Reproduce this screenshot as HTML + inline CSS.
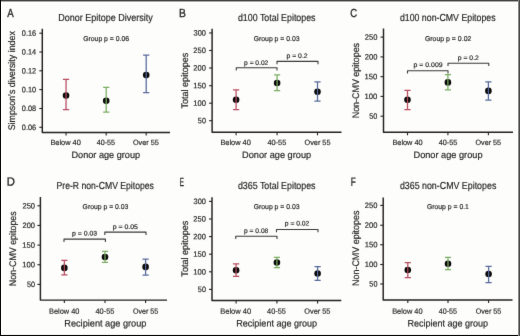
<!DOCTYPE html>
<html><head><meta charset="utf-8"><style>
html,body{margin:0;padding:0;background:#fdfdfc;}
svg{display:block;font-family:"Liberation Sans",sans-serif;text-rendering:geometricPrecision;}
text{stroke:#231f20;stroke-width:0.18px;}
</style></head><body>
<svg width="520" height="336" viewBox="0 0 520 336">
<rect x="0" y="0" width="520" height="336" fill="#fdfdfc"/>
<defs><filter id="soft" x="0" y="0" width="520" height="336" filterUnits="userSpaceOnUse" color-interpolation-filters="sRGB"><feConvolveMatrix order="3" kernelMatrix="1 12 1 12 144 12 1 12 1" divisor="196" edgeMode="none"/></filter></defs>
<g filter="url(#soft)">
<g stroke-linejoin="round">
<path d="M42.30,28.80 V132.45 H170.00" fill="none" stroke="#231f20" stroke-width="1.45"/>
<line x1="39.30" y1="33.20" x2="42.30" y2="33.20" stroke="#231f20" stroke-width="1.1"/>
<line x1="39.30" y1="52.00" x2="42.30" y2="52.00" stroke="#231f20" stroke-width="1.1"/>
<line x1="39.30" y1="70.80" x2="42.30" y2="70.80" stroke="#231f20" stroke-width="1.1"/>
<line x1="39.30" y1="89.60" x2="42.30" y2="89.60" stroke="#231f20" stroke-width="1.1"/>
<line x1="39.30" y1="108.50" x2="42.30" y2="108.50" stroke="#231f20" stroke-width="1.1"/>
<line x1="39.30" y1="127.30" x2="42.30" y2="127.30" stroke="#231f20" stroke-width="1.1"/>
<line x1="66.05" y1="132.45" x2="66.05" y2="135.45" stroke="#231f20" stroke-width="1.1"/>
<line x1="106.20" y1="132.45" x2="106.20" y2="135.45" stroke="#231f20" stroke-width="1.1"/>
<line x1="146.20" y1="132.45" x2="146.20" y2="135.45" stroke="#231f20" stroke-width="1.1"/>
<circle cx="66.05" cy="95.50" r="3.3" fill="#0a0a0a"/>
<path d="M66.05,79.40 V109.50 M62.95,79.40 H69.15 M62.95,109.50 H69.15" fill="none" stroke="#b64c5e" stroke-width="1.25"/>
<circle cx="106.20" cy="100.80" r="3.3" fill="#0a0a0a"/>
<path d="M106.20,87.40 V112.10 M103.10,87.40 H109.30 M103.10,112.10 H109.30" fill="none" stroke="#79ad60" stroke-width="1.25"/>
<circle cx="146.20" cy="75.10" r="3.3" fill="#0a0a0a"/>
<path d="M146.20,55.20 V92.70 M143.10,55.20 H149.30 M143.10,92.70 H149.30" fill="none" stroke="#56699a" stroke-width="1.25"/>
<path d="M212.10,28.80 V132.30 H341.50" fill="none" stroke="#231f20" stroke-width="1.45"/>
<line x1="209.10" y1="32.95" x2="212.10" y2="32.95" stroke="#231f20" stroke-width="1.1"/>
<line x1="209.10" y1="50.50" x2="212.10" y2="50.50" stroke="#231f20" stroke-width="1.1"/>
<line x1="209.10" y1="68.00" x2="212.10" y2="68.00" stroke="#231f20" stroke-width="1.1"/>
<line x1="209.10" y1="85.70" x2="212.10" y2="85.70" stroke="#231f20" stroke-width="1.1"/>
<line x1="209.10" y1="103.20" x2="212.10" y2="103.20" stroke="#231f20" stroke-width="1.1"/>
<line x1="209.10" y1="120.70" x2="212.10" y2="120.70" stroke="#231f20" stroke-width="1.1"/>
<line x1="236.10" y1="132.30" x2="236.10" y2="135.30" stroke="#231f20" stroke-width="1.1"/>
<line x1="277.10" y1="132.30" x2="277.10" y2="135.30" stroke="#231f20" stroke-width="1.1"/>
<line x1="317.50" y1="132.30" x2="317.50" y2="135.30" stroke="#231f20" stroke-width="1.1"/>
<path d="M236.25,70.55 V67.75 H277.00 V70.55" fill="none" stroke="#3a3a3a" stroke-width="1.1"/>
<path d="M277.00,64.20 V61.40 H318.00 V64.20" fill="none" stroke="#3a3a3a" stroke-width="1.1"/>
<circle cx="236.10" cy="99.70" r="3.3" fill="#0a0a0a"/>
<path d="M236.10,89.80 V109.60 M233.00,89.80 H239.20 M233.00,109.60 H239.20" fill="none" stroke="#b64c5e" stroke-width="1.25"/>
<circle cx="277.10" cy="83.00" r="3.3" fill="#0a0a0a"/>
<path d="M277.10,74.80 V90.60 M274.00,74.80 H280.20 M274.00,90.60 H280.20" fill="none" stroke="#79ad60" stroke-width="1.25"/>
<circle cx="317.50" cy="91.80" r="3.3" fill="#0a0a0a"/>
<path d="M317.50,81.90 V101.10 M314.40,81.90 H320.60 M314.40,101.10 H320.60" fill="none" stroke="#56699a" stroke-width="1.25"/>
<path d="M383.50,28.60 V132.30 H513.00" fill="none" stroke="#231f20" stroke-width="1.45"/>
<line x1="380.50" y1="37.10" x2="383.50" y2="37.10" stroke="#231f20" stroke-width="1.1"/>
<line x1="380.50" y1="56.90" x2="383.50" y2="56.90" stroke="#231f20" stroke-width="1.1"/>
<line x1="380.50" y1="76.65" x2="383.50" y2="76.65" stroke="#231f20" stroke-width="1.1"/>
<line x1="380.50" y1="96.40" x2="383.50" y2="96.40" stroke="#231f20" stroke-width="1.1"/>
<line x1="380.50" y1="116.20" x2="383.50" y2="116.20" stroke="#231f20" stroke-width="1.1"/>
<line x1="407.50" y1="132.30" x2="407.50" y2="135.30" stroke="#231f20" stroke-width="1.1"/>
<line x1="447.90" y1="132.30" x2="447.90" y2="135.30" stroke="#231f20" stroke-width="1.1"/>
<line x1="488.40" y1="132.30" x2="488.40" y2="135.30" stroke="#231f20" stroke-width="1.1"/>
<path d="M407.50,73.55 V70.75 H448.00 V73.55" fill="none" stroke="#3a3a3a" stroke-width="1.1"/>
<path d="M448.00,66.05 V63.25 H488.75 V66.05" fill="none" stroke="#3a3a3a" stroke-width="1.1"/>
<circle cx="407.50" cy="99.70" r="3.3" fill="#0a0a0a"/>
<path d="M407.50,90.40 V109.60 M404.40,90.40 H410.60 M404.40,109.60 H410.60" fill="none" stroke="#b64c5e" stroke-width="1.25"/>
<circle cx="447.90" cy="82.40" r="3.3" fill="#0a0a0a"/>
<path d="M447.90,74.50 V89.80 M444.80,74.50 H451.00 M444.80,89.80 H451.00" fill="none" stroke="#79ad60" stroke-width="1.25"/>
<circle cx="488.40" cy="90.90" r="3.3" fill="#0a0a0a"/>
<path d="M488.40,81.90 V100.00 M485.30,81.90 H491.50 M485.30,100.00 H491.50" fill="none" stroke="#56699a" stroke-width="1.25"/>
<path d="M40.40,197.10 V300.10 H167.00" fill="none" stroke="#231f20" stroke-width="1.45"/>
<line x1="37.40" y1="205.80" x2="40.40" y2="205.80" stroke="#231f20" stroke-width="1.1"/>
<line x1="37.40" y1="225.45" x2="40.40" y2="225.45" stroke="#231f20" stroke-width="1.1"/>
<line x1="37.40" y1="245.10" x2="40.40" y2="245.10" stroke="#231f20" stroke-width="1.1"/>
<line x1="37.40" y1="264.75" x2="40.40" y2="264.75" stroke="#231f20" stroke-width="1.1"/>
<line x1="37.40" y1="284.40" x2="40.40" y2="284.40" stroke="#231f20" stroke-width="1.1"/>
<line x1="64.35" y1="300.10" x2="64.35" y2="303.10" stroke="#231f20" stroke-width="1.1"/>
<line x1="105.00" y1="300.10" x2="105.00" y2="303.10" stroke="#231f20" stroke-width="1.1"/>
<line x1="145.60" y1="300.10" x2="145.60" y2="303.10" stroke="#231f20" stroke-width="1.1"/>
<path d="M64.00,241.90 V239.10 H105.40 V241.90" fill="none" stroke="#3a3a3a" stroke-width="1.1"/>
<path d="M104.80,234.90 V232.10 H146.00 V234.90" fill="none" stroke="#3a3a3a" stroke-width="1.1"/>
<circle cx="64.35" cy="267.90" r="3.3" fill="#0a0a0a"/>
<path d="M64.35,260.40 V274.80 M61.25,260.40 H67.45 M61.25,274.80 H67.45" fill="none" stroke="#b64c5e" stroke-width="1.25"/>
<circle cx="105.00" cy="257.00" r="3.3" fill="#0a0a0a"/>
<path d="M105.00,251.40 V262.30 M101.90,251.40 H108.10 M101.90,262.30 H108.10" fill="none" stroke="#79ad60" stroke-width="1.25"/>
<circle cx="145.60" cy="266.90" r="3.3" fill="#0a0a0a"/>
<path d="M145.60,259.00 V275.20 M142.50,259.00 H148.70 M142.50,275.20 H148.70" fill="none" stroke="#56699a" stroke-width="1.25"/>
<path d="M212.00,197.30 V300.40 H341.25" fill="none" stroke="#231f20" stroke-width="1.45"/>
<line x1="209.00" y1="201.40" x2="212.00" y2="201.40" stroke="#231f20" stroke-width="1.1"/>
<line x1="209.00" y1="219.00" x2="212.00" y2="219.00" stroke="#231f20" stroke-width="1.1"/>
<line x1="209.00" y1="236.60" x2="212.00" y2="236.60" stroke="#231f20" stroke-width="1.1"/>
<line x1="209.00" y1="254.20" x2="212.00" y2="254.20" stroke="#231f20" stroke-width="1.1"/>
<line x1="209.00" y1="271.80" x2="212.00" y2="271.80" stroke="#231f20" stroke-width="1.1"/>
<line x1="209.00" y1="289.40" x2="212.00" y2="289.40" stroke="#231f20" stroke-width="1.1"/>
<line x1="236.10" y1="300.40" x2="236.10" y2="303.40" stroke="#231f20" stroke-width="1.1"/>
<line x1="276.90" y1="300.40" x2="276.90" y2="303.40" stroke="#231f20" stroke-width="1.1"/>
<line x1="317.60" y1="300.40" x2="317.60" y2="303.40" stroke="#231f20" stroke-width="1.1"/>
<path d="M235.75,239.05 V236.25 H277.00 V239.05" fill="none" stroke="#3a3a3a" stroke-width="1.1"/>
<path d="M276.50,232.30 V229.50 H318.00 V232.30" fill="none" stroke="#3a3a3a" stroke-width="1.1"/>
<circle cx="236.10" cy="270.25" r="3.3" fill="#0a0a0a"/>
<path d="M236.10,263.75 V276.25 M233.00,263.75 H239.20 M233.00,276.25 H239.20" fill="none" stroke="#b64c5e" stroke-width="1.25"/>
<circle cx="276.90" cy="262.50" r="3.3" fill="#0a0a0a"/>
<path d="M276.90,257.25 V267.50 M273.80,257.25 H280.00 M273.80,267.50 H280.00" fill="none" stroke="#79ad60" stroke-width="1.25"/>
<circle cx="317.60" cy="273.50" r="3.3" fill="#0a0a0a"/>
<path d="M317.60,266.50 V280.25 M314.50,266.50 H320.70 M314.50,280.25 H320.70" fill="none" stroke="#56699a" stroke-width="1.25"/>
<path d="M383.20,197.50 V300.00 H512.50" fill="none" stroke="#231f20" stroke-width="1.45"/>
<line x1="380.20" y1="205.40" x2="383.20" y2="205.40" stroke="#231f20" stroke-width="1.1"/>
<line x1="380.20" y1="225.25" x2="383.20" y2="225.25" stroke="#231f20" stroke-width="1.1"/>
<line x1="380.20" y1="244.75" x2="383.20" y2="244.75" stroke="#231f20" stroke-width="1.1"/>
<line x1="380.20" y1="264.50" x2="383.20" y2="264.50" stroke="#231f20" stroke-width="1.1"/>
<line x1="380.20" y1="284.00" x2="383.20" y2="284.00" stroke="#231f20" stroke-width="1.1"/>
<line x1="407.80" y1="300.00" x2="407.80" y2="303.00" stroke="#231f20" stroke-width="1.1"/>
<line x1="448.00" y1="300.00" x2="448.00" y2="303.00" stroke="#231f20" stroke-width="1.1"/>
<line x1="488.60" y1="300.00" x2="488.60" y2="303.00" stroke="#231f20" stroke-width="1.1"/>
<circle cx="407.80" cy="270.00" r="3.3" fill="#0a0a0a"/>
<path d="M407.80,262.50 V277.50 M404.70,262.50 H410.90 M404.70,277.50 H410.90" fill="none" stroke="#b64c5e" stroke-width="1.25"/>
<circle cx="448.00" cy="263.75" r="3.3" fill="#0a0a0a"/>
<path d="M448.00,257.25 V269.50 M444.90,257.25 H451.10 M444.90,269.50 H451.10" fill="none" stroke="#79ad60" stroke-width="1.25"/>
<circle cx="488.60" cy="274.00" r="3.3" fill="#0a0a0a"/>
<path d="M488.60,266.25 V282.50 M485.50,266.25 H491.70 M485.50,282.50 H491.70" fill="none" stroke="#56699a" stroke-width="1.25"/>
</g>
<g style="filter:grayscale(1)">
<text style="stroke-width:0.32px" transform="translate(7.33,17) rotate(0.05)" font-size="11.7" textLength="6.44" lengthAdjust="spacingAndGlyphs" fill="#231f20">A</text>
<text transform="translate(58.26,21) rotate(0.05)" font-size="10.2" textLength="94.51" lengthAdjust="spacingAndGlyphs" fill="#231f20">Donor Epitope Diversity</text>
<text transform="translate(83.21,41) rotate(0.05)" font-size="7.0" textLength="45.84" lengthAdjust="spacingAndGlyphs" fill="#231f20">Group p = 0.06</text>
<text transform="translate(21.86,35.80) rotate(0.05)" font-size="7.8" textLength="14.31" lengthAdjust="spacingAndGlyphs" fill="#231f20">0.16</text>
<text transform="translate(21.87,54.60) rotate(0.05)" font-size="7.8" textLength="14.20" lengthAdjust="spacingAndGlyphs" fill="#231f20">0.14</text>
<text transform="translate(21.86,73.40) rotate(0.05)" font-size="7.8" textLength="14.36" lengthAdjust="spacingAndGlyphs" fill="#231f20">0.12</text>
<text transform="translate(21.86,92.20) rotate(0.05)" font-size="7.8" textLength="14.27" lengthAdjust="spacingAndGlyphs" fill="#231f20">0.10</text>
<text transform="translate(21.86,111.10) rotate(0.05)" font-size="7.8" textLength="14.31" lengthAdjust="spacingAndGlyphs" fill="#231f20">0.08</text>
<text transform="translate(21.86,129.90) rotate(0.05)" font-size="7.8" textLength="14.31" lengthAdjust="spacingAndGlyphs" fill="#231f20">0.06</text>
<text transform="translate(15.30,130.35) rotate(-90)" x="0" y="0" font-size="9.6" textLength="99.20" lengthAdjust="spacingAndGlyphs" fill="#231f20">Simpson’s diversity index</text>
<text transform="translate(50.44,145) rotate(0.05)" font-size="7.6" textLength="30.39" lengthAdjust="spacingAndGlyphs" fill="#231f20">Below 40</text>
<text transform="translate(96.84,145) rotate(0.05)" font-size="7.6" textLength="18.21" lengthAdjust="spacingAndGlyphs" fill="#231f20">40-55</text>
<text transform="translate(132.91,145) rotate(0.05)" font-size="7.6" textLength="25.90" lengthAdjust="spacingAndGlyphs" fill="#231f20">Over 55</text>
<text transform="translate(71.50,158) rotate(0.05)" font-size="9.5" textLength="68.63" lengthAdjust="spacingAndGlyphs" fill="#231f20">Donor age group</text>
<text style="stroke-width:0.32px" transform="translate(178.90,17) rotate(0.05)" font-size="11.7" textLength="6.89" lengthAdjust="spacingAndGlyphs" fill="#231f20">B</text>
<text transform="translate(237.88,21) rotate(0.05)" font-size="10.2" textLength="77.68" lengthAdjust="spacingAndGlyphs" fill="#231f20">d100 Total Epitopes</text>
<text transform="translate(253.66,41) rotate(0.05)" font-size="7.0" textLength="45.90" lengthAdjust="spacingAndGlyphs" fill="#231f20">Group p = 0.03</text>
<text transform="translate(193.47,35.55) rotate(0.05)" font-size="7.8" textLength="12.48" lengthAdjust="spacingAndGlyphs" fill="#231f20">300</text>
<text transform="translate(193.37,53.10) rotate(0.05)" font-size="7.8" textLength="12.57" lengthAdjust="spacingAndGlyphs" fill="#231f20">250</text>
<text transform="translate(193.37,70.60) rotate(0.05)" font-size="7.8" textLength="12.57" lengthAdjust="spacingAndGlyphs" fill="#231f20">200</text>
<text transform="translate(193.17,88.30) rotate(0.05)" font-size="7.8" textLength="12.78" lengthAdjust="spacingAndGlyphs" fill="#231f20">150</text>
<text transform="translate(193.17,105.80) rotate(0.05)" font-size="7.8" textLength="12.78" lengthAdjust="spacingAndGlyphs" fill="#231f20">100</text>
<text transform="translate(197.86,123.30) rotate(0.05)" font-size="7.8" textLength="8.07" lengthAdjust="spacingAndGlyphs" fill="#231f20">50</text>
<text transform="translate(187.60,108.55) rotate(-90)" x="0" y="0" font-size="9.6" textLength="55.82" lengthAdjust="spacingAndGlyphs" fill="#231f20">Total epitopes</text>
<text transform="translate(220.44,145) rotate(0.05)" font-size="7.6" textLength="30.39" lengthAdjust="spacingAndGlyphs" fill="#231f20">Below 40</text>
<text transform="translate(267.38,145) rotate(0.05)" font-size="7.6" textLength="18.88" lengthAdjust="spacingAndGlyphs" fill="#231f20">40-55</text>
<text transform="translate(304.50,145) rotate(0.05)" font-size="7.6" textLength="25.95" lengthAdjust="spacingAndGlyphs" fill="#231f20">Over 55</text>
<text transform="translate(242.10,158) rotate(0.05)" font-size="9.5" textLength="69.04" lengthAdjust="spacingAndGlyphs" fill="#231f20">Donor age group</text>
<text transform="translate(244.07,65) rotate(0.05)" font-size="6.6" textLength="24.26" lengthAdjust="spacingAndGlyphs" fill="#231f20">p = 0.02</text>
<text transform="translate(286.56,58) rotate(0.05)" font-size="6.6" textLength="21.03" lengthAdjust="spacingAndGlyphs" fill="#231f20">p = 0.2</text>
<text style="stroke-width:0.32px" transform="translate(350.27,17) rotate(0.05)" font-size="11.7" textLength="6.84" lengthAdjust="spacingAndGlyphs" fill="#231f20">C</text>
<text transform="translate(399.88,21) rotate(0.05)" font-size="10.2" textLength="95.69" lengthAdjust="spacingAndGlyphs" fill="#231f20">d100 non-CMV Epitopes</text>
<text transform="translate(424.90,41) rotate(0.05)" font-size="7.0" textLength="46.45" lengthAdjust="spacingAndGlyphs" fill="#231f20">Group p = 0.02</text>
<text transform="translate(364.77,39.70) rotate(0.05)" font-size="7.8" textLength="12.57" lengthAdjust="spacingAndGlyphs" fill="#231f20">250</text>
<text transform="translate(364.77,59.50) rotate(0.05)" font-size="7.8" textLength="12.57" lengthAdjust="spacingAndGlyphs" fill="#231f20">200</text>
<text transform="translate(364.57,79.25) rotate(0.05)" font-size="7.8" textLength="12.78" lengthAdjust="spacingAndGlyphs" fill="#231f20">150</text>
<text transform="translate(364.57,99.00) rotate(0.05)" font-size="7.8" textLength="12.78" lengthAdjust="spacingAndGlyphs" fill="#231f20">100</text>
<text transform="translate(369.26,118.80) rotate(0.05)" font-size="7.8" textLength="8.07" lengthAdjust="spacingAndGlyphs" fill="#231f20">50</text>
<text transform="translate(359.20,118.28) rotate(-90)" x="0" y="0" font-size="9.6" textLength="75.35" lengthAdjust="spacingAndGlyphs" fill="#231f20">Non-CMV epitopes</text>
<text transform="translate(392.45,145) rotate(0.05)" font-size="7.6" textLength="30.09" lengthAdjust="spacingAndGlyphs" fill="#231f20">Below 40</text>
<text transform="translate(438.68,145) rotate(0.05)" font-size="7.6" textLength="18.67" lengthAdjust="spacingAndGlyphs" fill="#231f20">40-55</text>
<text transform="translate(475.51,145) rotate(0.05)" font-size="7.6" textLength="25.54" lengthAdjust="spacingAndGlyphs" fill="#231f20">Over 55</text>
<text transform="translate(413.50,158) rotate(0.05)" font-size="9.5" textLength="69.04" lengthAdjust="spacingAndGlyphs" fill="#231f20">Donor age group</text>
<text transform="translate(413.55,67) rotate(0.05)" font-size="6.6" textLength="29.02" lengthAdjust="spacingAndGlyphs" fill="#231f20">p = 0.009</text>
<text transform="translate(457.81,60) rotate(0.05)" font-size="6.6" textLength="21.03" lengthAdjust="spacingAndGlyphs" fill="#231f20">p = 0.2</text>
<text style="stroke-width:0.32px" transform="translate(6.82,185.6) rotate(0.05)" font-size="11.7" textLength="8.17" lengthAdjust="spacingAndGlyphs" fill="#231f20">D</text>
<text transform="translate(56.54,189) rotate(0.05)" font-size="10.2" textLength="97.32" lengthAdjust="spacingAndGlyphs" fill="#231f20">Pre-R non-CMV Epitopes</text>
<text transform="translate(82.61,209) rotate(0.05)" font-size="7.0" textLength="45.74" lengthAdjust="spacingAndGlyphs" fill="#231f20">Group p = 0.03</text>
<text transform="translate(22.47,208.40) rotate(0.05)" font-size="7.8" textLength="12.57" lengthAdjust="spacingAndGlyphs" fill="#231f20">250</text>
<text transform="translate(22.47,228.05) rotate(0.05)" font-size="7.8" textLength="12.57" lengthAdjust="spacingAndGlyphs" fill="#231f20">200</text>
<text transform="translate(22.27,247.70) rotate(0.05)" font-size="7.8" textLength="12.78" lengthAdjust="spacingAndGlyphs" fill="#231f20">150</text>
<text transform="translate(22.27,267.35) rotate(0.05)" font-size="7.8" textLength="12.78" lengthAdjust="spacingAndGlyphs" fill="#231f20">100</text>
<text transform="translate(26.96,287.00) rotate(0.05)" font-size="7.8" textLength="8.07" lengthAdjust="spacingAndGlyphs" fill="#231f20">50</text>
<text transform="translate(15.50,286.18) rotate(-90)" x="0" y="0" font-size="9.6" textLength="74.85" lengthAdjust="spacingAndGlyphs" fill="#231f20">Non-CMV epitopes</text>
<text transform="translate(49.05,313.75) rotate(0.05)" font-size="7.6" textLength="30.29" lengthAdjust="spacingAndGlyphs" fill="#231f20">Below 40</text>
<text transform="translate(95.48,313.75) rotate(0.05)" font-size="7.6" textLength="18.88" lengthAdjust="spacingAndGlyphs" fill="#231f20">40-55</text>
<text transform="translate(132.91,313.75) rotate(0.05)" font-size="7.6" textLength="25.34" lengthAdjust="spacingAndGlyphs" fill="#231f20">Over 55</text>
<text transform="translate(64.30,326.4) rotate(0.05)" font-size="9.5" textLength="82.14" lengthAdjust="spacingAndGlyphs" fill="#231f20">Recipient age group</text>
<text transform="translate(72.00,235.45) rotate(0.05)" font-size="6.6" textLength="25.15" lengthAdjust="spacingAndGlyphs" fill="#231f20">p = 0.03</text>
<text transform="translate(112.70,229) rotate(0.05)" font-size="6.6" textLength="25.24" lengthAdjust="spacingAndGlyphs" fill="#231f20">p = 0.05</text>
<text style="stroke-width:0.32px" transform="translate(179.74,185.8) rotate(0.05)" font-size="11.7" textLength="4.18" lengthAdjust="spacingAndGlyphs" fill="#231f20">E</text>
<text transform="translate(237.88,189) rotate(0.05)" font-size="10.2" textLength="77.68" lengthAdjust="spacingAndGlyphs" fill="#231f20">d365 Total Epitopes</text>
<text transform="translate(253.66,209) rotate(0.05)" font-size="7.0" textLength="45.90" lengthAdjust="spacingAndGlyphs" fill="#231f20">Group p = 0.03</text>
<text transform="translate(193.47,204.00) rotate(0.05)" font-size="7.8" textLength="12.48" lengthAdjust="spacingAndGlyphs" fill="#231f20">300</text>
<text transform="translate(193.37,221.60) rotate(0.05)" font-size="7.8" textLength="12.57" lengthAdjust="spacingAndGlyphs" fill="#231f20">250</text>
<text transform="translate(193.37,239.20) rotate(0.05)" font-size="7.8" textLength="12.57" lengthAdjust="spacingAndGlyphs" fill="#231f20">200</text>
<text transform="translate(193.17,256.80) rotate(0.05)" font-size="7.8" textLength="12.78" lengthAdjust="spacingAndGlyphs" fill="#231f20">150</text>
<text transform="translate(193.17,274.40) rotate(0.05)" font-size="7.8" textLength="12.78" lengthAdjust="spacingAndGlyphs" fill="#231f20">100</text>
<text transform="translate(197.86,292.00) rotate(0.05)" font-size="7.8" textLength="8.07" lengthAdjust="spacingAndGlyphs" fill="#231f20">50</text>
<text transform="translate(187.60,276.65) rotate(-90)" x="0" y="0" font-size="9.6" textLength="56.02" lengthAdjust="spacingAndGlyphs" fill="#231f20">Total epitopes</text>
<text transform="translate(220.24,313.75) rotate(0.05)" font-size="7.6" textLength="30.81" lengthAdjust="spacingAndGlyphs" fill="#231f20">Below 40</text>
<text transform="translate(267.08,313.75) rotate(0.05)" font-size="7.6" textLength="18.73" lengthAdjust="spacingAndGlyphs" fill="#231f20">40-55</text>
<text transform="translate(304.30,313.75) rotate(0.05)" font-size="7.6" textLength="26.16" lengthAdjust="spacingAndGlyphs" fill="#231f20">Over 55</text>
<text transform="translate(236.26,326.4) rotate(0.05)" font-size="9.5" textLength="80.87" lengthAdjust="spacingAndGlyphs" fill="#231f20">Recipient age group</text>
<text transform="translate(244.07,232.9) rotate(0.05)" font-size="6.6" textLength="24.22" lengthAdjust="spacingAndGlyphs" fill="#231f20">p = 0.08</text>
<text transform="translate(284.82,225.5) rotate(0.05)" font-size="6.6" textLength="24.52" lengthAdjust="spacingAndGlyphs" fill="#231f20">p = 0.02</text>
<text style="stroke-width:0.32px" transform="translate(350.83,185.7) rotate(0.05)" font-size="11.7" textLength="5.00" lengthAdjust="spacingAndGlyphs" fill="#231f20">F</text>
<text transform="translate(399.88,189) rotate(0.05)" font-size="10.2" textLength="96.44" lengthAdjust="spacingAndGlyphs" fill="#231f20">d365 non-CMV Epitopes</text>
<text transform="translate(426.91,209) rotate(0.05)" font-size="7.0" textLength="41.98" lengthAdjust="spacingAndGlyphs" fill="#231f20">Group p = 0.1</text>
<text transform="translate(364.87,208.00) rotate(0.05)" font-size="7.8" textLength="12.57" lengthAdjust="spacingAndGlyphs" fill="#231f20">250</text>
<text transform="translate(364.87,227.85) rotate(0.05)" font-size="7.8" textLength="12.57" lengthAdjust="spacingAndGlyphs" fill="#231f20">200</text>
<text transform="translate(364.67,247.35) rotate(0.05)" font-size="7.8" textLength="12.78" lengthAdjust="spacingAndGlyphs" fill="#231f20">150</text>
<text transform="translate(364.67,267.10) rotate(0.05)" font-size="7.8" textLength="12.78" lengthAdjust="spacingAndGlyphs" fill="#231f20">100</text>
<text transform="translate(369.36,286.60) rotate(0.05)" font-size="7.8" textLength="8.07" lengthAdjust="spacingAndGlyphs" fill="#231f20">50</text>
<text transform="translate(359.20,285.98) rotate(-90)" x="0" y="0" font-size="9.6" textLength="75.46" lengthAdjust="spacingAndGlyphs" fill="#231f20">Non-CMV epitopes</text>
<text transform="translate(392.14,313.75) rotate(0.05)" font-size="7.6" textLength="30.39" lengthAdjust="spacingAndGlyphs" fill="#231f20">Below 40</text>
<text transform="translate(438.84,313.75) rotate(0.05)" font-size="7.6" textLength="18.21" lengthAdjust="spacingAndGlyphs" fill="#231f20">40-55</text>
<text transform="translate(475.66,313.75) rotate(0.05)" font-size="7.6" textLength="25.64" lengthAdjust="spacingAndGlyphs" fill="#231f20">Over 55</text>
<text transform="translate(407.51,326.4) rotate(0.05)" font-size="9.5" textLength="80.62" lengthAdjust="spacingAndGlyphs" fill="#231f20">Recipient age group</text>
</g>
</g>
<rect x="0" y="0" width="520" height="1" fill="#454545"/>
<rect x="0" y="1" width="520" height="1" fill="#aaaaaa"/>
<rect x="0" y="334" width="520" height="1" fill="#eeeeee"/>
<rect x="0" y="335" width="520" height="1" fill="#080808"/>
<rect x="518" y="0" width="1" height="336" fill="#8a8a8a"/>
<rect x="519" y="0" width="1" height="336" fill="#4a4a4a"/>
<rect x="0" y="0" width="1" height="336" fill="#080808"/>
</svg>
</body></html>
